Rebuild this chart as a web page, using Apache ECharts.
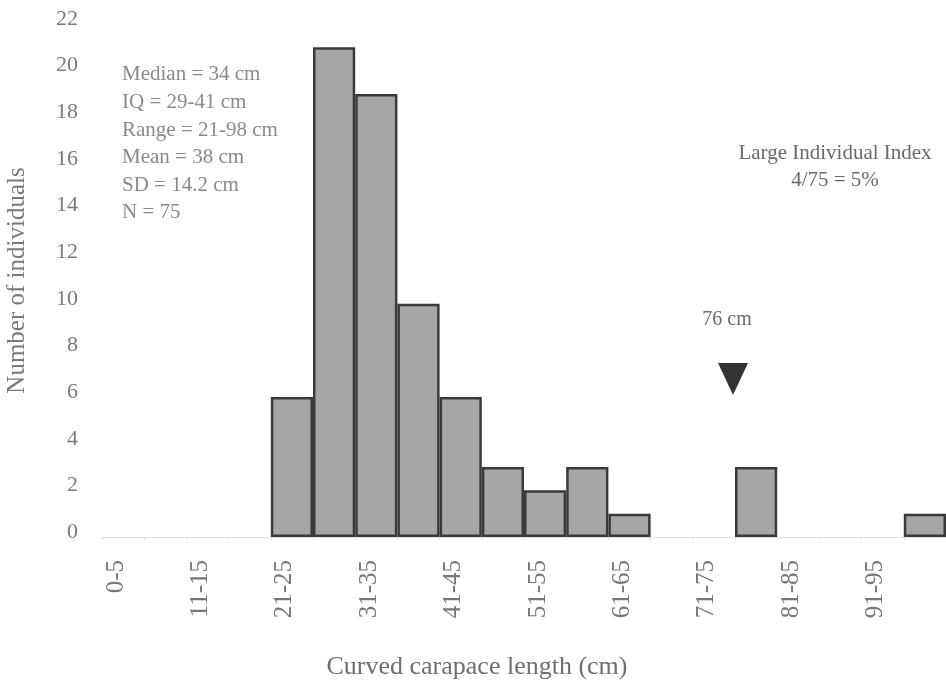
<!DOCTYPE html>
<html>
<head>
<meta charset="utf-8">
<script src="https://cdn.jsdelivr.net/npm/echarts@6/dist/echarts.min.js"></script>
<style>html,body{margin:0;padding:0;background:#fff;}#c{width:946px;height:680px;}</style>
</head>
<body>
<div id="c"></div>
<script>
var categories = ["0-5","6-10","11-15","16-20","21-25","26-30","31-35","36-40","41-45","46-50","51-55","56-60","61-65","66-70","71-75","76-80","81-85","86-90","91-95","96-100"];
var counts = [0,0,0,0,6,21,19,10,6,3,2,3,1,0,0,3,0,0,0,1];
var yTicks = [0,2,4,6,8,10,12,14,16,18,20,22];
var statsLines = ["Median = 34 cm","IQ = 29-41 cm","Range = 21-98 cm","Mean = 38 cm","SD = 14.2 cm","N = 75"];
var indexLines = ["Large Individual Index","4/75 = 5%"];
var markerLabel = "76 cm";

var FONT = "'Liberation Serif', 'DejaVu Serif', serif";
var chart = echarts.init(document.getElementById('c'), null, {renderer: 'canvas'});
var barData = counts.map(function (v) {
  return v === 0 ? {value: v, itemStyle: {borderWidth: 0}} : v;
});
var option = {
  animation: false,
  backgroundColor: '#ffffff',
  grid: {left: 102, right: 0, top: 24, bottom: 143, containLabel: false, outerBoundsMode: 'none'},
  xAxis: {
    type: 'category',
    data: categories,
    name: 'Curved carapace length (cm)',
    nameLocation: 'middle',
    nameGap: 117,
    nameTextStyle: {fontFamily: FONT, fontSize: 26, color: '#6e6e6e', padding: [0, 94, 0, 0]},
    axisLine: {show: true, lineStyle: {color: '#e2e2e2', width: 1}},
    axisTick: {show: true, length: 3, interval: 0, lineStyle: {color: '#dddddd'}},
    axisLabel: {
      interval: 1, rotate: 90, margin: 23, color: '#777777',
      formatter: function (v) { return '{n|' + v + '}\n{s| }'; },
      rich: {n: {fontFamily: FONT, fontSize: 25, lineHeight: 25, color: '#777777'}, s: {fontSize: 1, lineHeight: 14}}
    },
    splitLine: {show: false}
  },
  yAxis: {
    type: 'value',
    min: yTicks[0],
    max: yTicks[yTicks.length - 1],
    interval: 2,
    name: 'Number of individuals',
    nameLocation: 'middle',
    nameGap: 72,
    nameTextStyle: {fontFamily: FONT, fontSize: 25, color: '#7a7a7a'},
    axisLine: {show: false},
    axisTick: {show: false},
    splitLine: {show: false},
    axisLabel: {
      margin: 24, color: '#7a7a7a',
      formatter: function (v) { return '{n|' + v + '}\n{s| }'; },
      rich: {n: {fontFamily: FONT, fontSize: 22, lineHeight: 22, color: '#7a7a7a'}, s: {fontSize: 1, lineHeight: 10}}
    }
  },
  series: [{
    type: 'bar',
    data: barData,
    barCategoryGap: '0%',
    itemStyle: {color: '#a6a6a6', borderColor: '#3a3a3a', borderWidth: 2.5}
  }],
  graphic: [
    {type: 'text', left: 122, top: 61, style: {text: statsLines.join('\n'), font: '21px ' + FONT, fill: '#8a8a8a', lineHeight: 27.6}},
    {type: 'text', x: 835, y: 139.5, style: {text: indexLines.join('\n'), font: '21px ' + FONT, fill: '#6a6a6a', lineHeight: 27, textAlign: 'center'}},
    {type: 'text', x: 727, y: 320, style: {text: markerLabel, font: '20px ' + FONT, fill: '#6a6a6a', textAlign: 'center', textVerticalAlign: 'middle'}},
    {type: 'polygon', shape: {points: [[718, 363], [748, 363], [733, 395]]}, style: {fill: '#333333'}}
  ]
};
chart.setOption(option);
</script>
</body>
</html>
